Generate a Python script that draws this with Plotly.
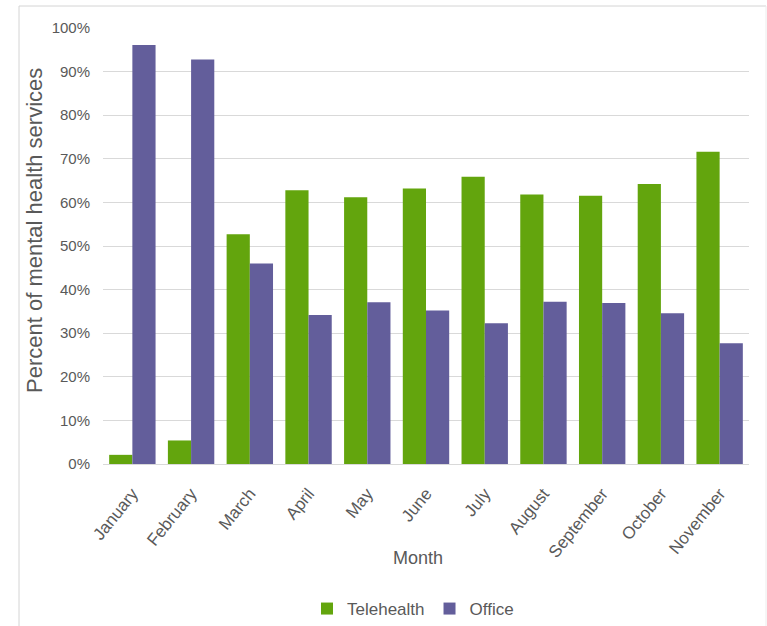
import plotly.graph_objects as go

months = ["January", "February", "March", "April", "May", "June",
          "July", "August", "September", "October", "November"]
telehealth = [2.1, 5.4, 52.7, 62.8, 61.2, 63.2, 65.9, 61.8, 61.5, 64.2, 71.6]
office = [96.1, 92.8, 46.0, 34.2, 37.1, 35.2, 32.3, 37.2, 36.9, 34.6, 27.7]
y_ticks = [0, 10, 20, 30, 40, 50, 60, 70, 80, 90, 100]
y_tick_labels = [f"{v}%" for v in y_ticks]

GREEN = "#63a50d"
PURPLE = "#635e9b"
TEXT = "#595959"
GRID = "#d9d9d9"
FONT = "Liberation Sans, Arial, sans-serif"

W, H = 767, 626
L, R, T, B = 103, 18, 28, 162
PW, PH = W - L - R, H - T - B


def px_x(x):
    return (x - L) / PW


def px_y(y):
    return (H - B - y) / PH


fig = go.Figure()
fig.add_trace(go.Bar(x=months, y=telehealth, name="Telehealth",
                     marker=dict(color=GREEN, line=dict(width=0))))
fig.add_trace(go.Bar(x=months, y=office, name="Office",
                     marker=dict(color=PURPLE, line=dict(width=0))))

fig.update_layout(
    width=W, height=H,
    margin=dict(l=L, r=R, t=T, b=B, autoexpand=False),
    paper_bgcolor="white", plot_bgcolor="white",
    barmode="group", bargap=0.21, bargroupgap=0,
    font=dict(family=FONT, color=TEXT, size=14),
    showlegend=True,
    legend=dict(orientation="h", xref="container", yref="container",
                x=413 / W, xanchor="center",
                y=1 - 609 / H, yanchor="middle",
                font=dict(size=17, color=TEXT),
                itemwidth=30, traceorder="normal"),
    xaxis=dict(tickangle=-51, tickfont=dict(size=17, color=TEXT),
               ticklabelstandoff=12,
               showgrid=False, showline=True, linecolor=GRID, linewidth=1,
               ticks="", ticklen=0, automargin=False),
    yaxis=dict(range=[0, 100], tickvals=y_ticks, ticktext=y_tick_labels,
               tickfont=dict(size=15, color=TEXT), ticklabelstandoff=12,
               showgrid=True, gridcolor=GRID, gridwidth=1,
               zeroline=False, showline=False, ticks="", automargin=False),
)

fig.add_annotation(text="Month", xref="paper", yref="paper",
                   x=px_x(418), y=px_y(558), showarrow=False,
                   font=dict(size=18, color=TEXT), xanchor="center",
                   yanchor="middle")
fig.add_annotation(text="Percent of mental health services", xref="paper",
                   yref="paper", x=px_x(34), y=px_y(231), textangle=-90,
                   showarrow=False, font=dict(size=22, color=TEXT),
                   xanchor="center", yanchor="middle")

# thin frame around the chart area
for x0, y0, x1, y1, col in [(19, 6, 766, 6, "#d4d4d4"),
                            (19, 6, 19, 626, "#d4d4d4"),
                            (766, 6, 766, 626, "#ececec")]:
    fig.add_shape(type="line", xref="paper", yref="paper",
                  x0=px_x(x0), y0=px_y(y0), x1=px_x(x1), y1=px_y(y1),
                  line=dict(color=col, width=1))

fig.write_html("out.html")
